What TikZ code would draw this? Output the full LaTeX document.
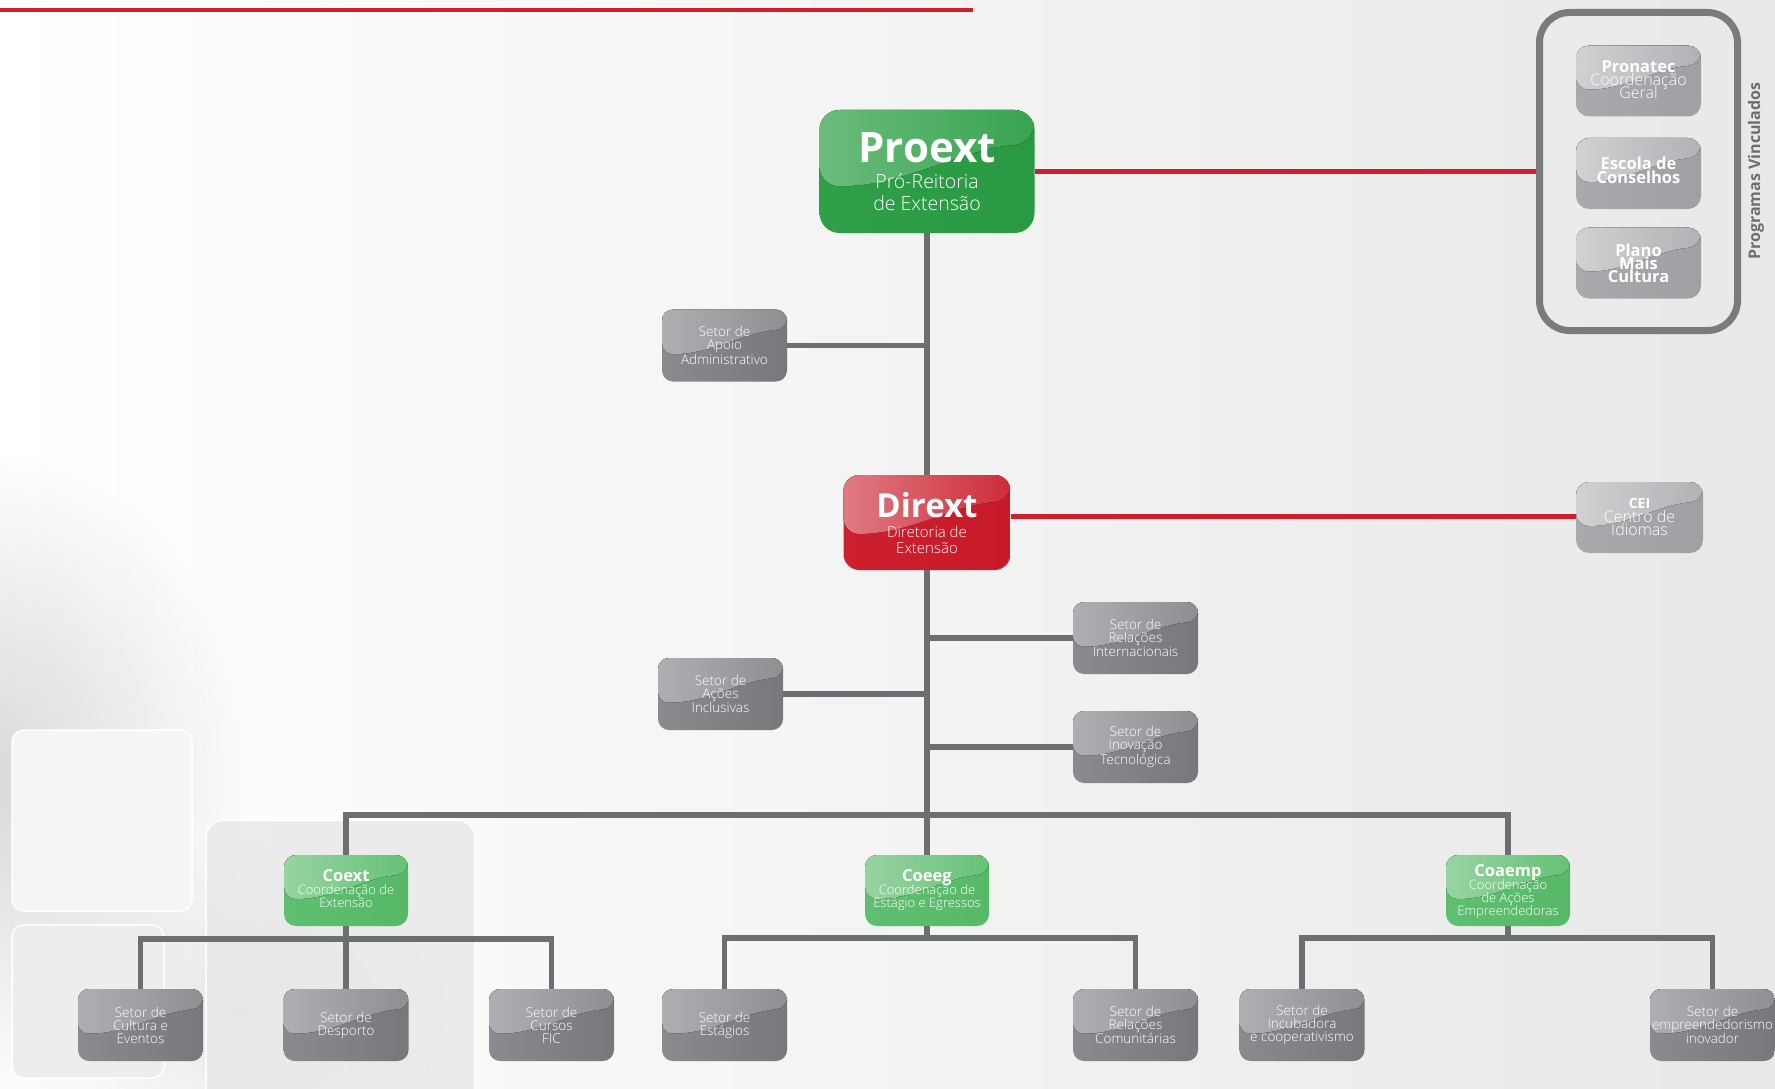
\documentclass[tikz,border=0pt]{standalone}
\usepackage{fontspec}
\setmainfont{Open Sans}
\IfFontExistsTF{Open Sans Light}
  {\newfontfamily\thinfont{Open Sans Light}}
  {\newfontfamily\thinfont{Open Sans}}
\usetikzlibrary{calc,fadings}

\pgfdeclarelayer{back}
\pgfdeclarelayer{wires}
\pgfsetlayers{back,wires,main}

\newcommand\fsz[2]{\fontsize{#1}{#2}\selectfont}

% connector and frame colours
\definecolor{wirec}{HTML}{6D6E71}
\definecolor{redc}{HTML}{CD1F2E}
\definecolor{framec}{HTML}{7A7B7E}
\definecolor{bgR}{HTML}{E8E8E7}
% grey cards: lower body and glossy upper part
\definecolor{gDL}{HTML}{8A8B8E}
\definecolor{gDR}{HTML}{77787B}
\definecolor{gLL}{HTML}{AEAFB2}
\definecolor{gLR}{HTML}{8E8F92}
% lighter grey programme cards
\definecolor{pDL}{HTML}{A9AAAD}
\definecolor{pDR}{HTML}{9FA0A3}
\definecolor{pLL}{HTML}{D0D1D3}
\definecolor{pLR}{HTML}{B1B2B5}
% green, red and light green cards
\definecolor{grDL}{HTML}{2F9F48}
\definecolor{grDR}{HTML}{2A9943}
\definecolor{grLL}{HTML}{6BBC7B}
\definecolor{grLR}{HTML}{38A350}
\definecolor{rDL}{HTML}{CD202E}
\definecolor{rDR}{HTML}{C71B29}
\definecolor{rLL}{HTML}{DF7B84}
\definecolor{rLR}{HTML}{CE2C39}
\definecolor{lgDL}{HTML}{5FBF70}
\definecolor{lgDR}{HTML}{57B968}
\definecolor{lgLL}{HTML}{98D3A2}
\definecolor{lgLR}{HTML}{65C276}

\tikzfading[name=softglow, inner color=transparent!45, outer color=transparent!100]

\tikzset{
  gloss/.style 2 args={path picture={
    \fill[x=1pt, y=1pt, left color=#1, right color=#2]
      let \p1=(path picture bounding box.north west),
          \p2=(path picture bounding box.south east) in
      (\x1,\y1) -- (\x2,\y1) -- (\x2,{\y1+0.27*(\y2-\y1)})
      .. controls ({\x1+0.65*(\x2-\x1)},{\y1+0.32*(\y2-\y1)})
              and ({\x1+0.40*(\x2-\x1)},{\y1+0.62*(\y2-\y1)})
      .. (\x1,{\y1+0.62*(\y2-\y1)}) -- cycle;}},
  card/.style={rounded corners=11pt, inner sep=0pt, align=center, text=white},
  graycard/.style={card, minimum width=125pt, minimum height=72pt,
    left color=gDL, right color=gDR, gloss={gLL}{gLR}, font=\thinfont\fsz{13.5}{13}},
  progcard/.style={card, minimum width=125pt, minimum height=71pt, rounded corners=13pt,
    left color=pDL, right color=pDR, gloss={pLL}{pLR}},
  coordcard/.style={card, minimum width=124pt, minimum height=71pt, rounded corners=12pt,
    left color=lgDL, right color=lgDR, gloss={lgLL}{lgLR}},
  lbl/.style={text=white, inner sep=0pt, anchor=base},
  wire/.style={draw=wirec, line width=5.5pt},
  redline/.style={draw=redc, line width=5.5pt},
  deco/.style={rounded corners=12pt, line width=1.5pt}
}

\begin{document}
\begin{tikzpicture}[x=1pt,y=-1pt]
\useasboundingbox (0,0) rectangle (1775,1089);

% ---------- backdrop ----------
\begin{pgfonlayer}{back}
  \fill[left color=white, right color=bgR] (0,0) rectangle (1775,1089);
  \fill[black!28, path fading=softglow] (-20,780) ellipse [x radius=270pt, y radius=330pt];
  \fill[black!16, path fading=softglow] (240,1010) ellipse [x radius=230pt, y radius=170pt];
  \fill[white!96!black, draw=white, deco] (12,730) rectangle (192,911);
  \fill[white!93!black, draw=white, deco] (12,925) rectangle (164,1078);
  \fill[white!91!black, fill opacity=0.8, draw=white, deco, rounded corners=18pt] (206,820) rectangle (475,1110);
  \draw[redline, line width=4.5pt] (0,10) -- (973,10);
\end{pgfonlayer}

% ---------- top level ----------
\node[card, minimum width=215pt, minimum height=123pt, rounded corners=20pt,
  left color=grDL, right color=grDR, gloss={grLL}{grLR}] (proext) at (927,171.5) {};
\node[lbl, font=\bfseries\fsz{42}{42}] (proextT) at (927,163) {Proext};
\node[lbl, font=\thinfont\fsz{19.5}{20}] (proextS1) at (927,188) {Pró-Reitoria};
\node[lbl, font=\thinfont\fsz{19.5}{20}] (proextS2) at (927,210) {de Extensão};

% ---------- linked programmes ----------
\node[draw=framec, line width=7pt, rounded corners=30pt, minimum width=198pt,
  minimum height=318pt, inner sep=0pt] (progs) at (1638.5,171.5) {};
\node[rotate=90, inner sep=0pt, text=wirec, font=\bfseries\fsz{16}{16}] (progsT) at (1756,171) {Programas Vinculados};

\node[progcard] (pronatec) at (1638.5,81) {};
\node[lbl, font=\bfseries\fsz{16.5}{16}] (pronatecT) at (1638.5,73) {Pronatec};
\node[lbl, font=\thinfont\fsz{16}{16}] (pronatecS1) at (1638.5,86) {Coordenação};
\node[lbl, font=\thinfont\fsz{16}{16}] (pronatecS2) at (1638.5,99) {Geral};

\node[progcard] (escola) at (1638.5,173.5) {};
\node[lbl, font=\bfseries\fsz{16.5}{16}] (escolaT1) at (1638.5,170) {Escola de};
\node[lbl, font=\bfseries\fsz{16.5}{16}] (escolaT2) at (1638.5,183) {Conselhos};

\node[progcard] (plano) at (1638.5,263) {};
\node[lbl, font=\bfseries\fsz{16.5}{16}] (planoT1) at (1638.5,256) {Plano};
\node[lbl, font=\bfseries\fsz{16.5}{16}] (planoT2) at (1638.5,269) {Mais};
\node[lbl, font=\bfseries\fsz{16.5}{16}] (planoT3) at (1638.5,282) {Cultura};

% ---------- directorate ----------
\node[card, minimum width=167pt, minimum height=95pt, rounded corners=16pt,
  left color=rDL, right color=rDR, gloss={rLL}{rLR}] (dirext) at (927,522.5) {};
\node[lbl, font=\bfseries\fsz{33}{33}] (dirextT) at (927,517) {Dirext};
\node[lbl, font=\thinfont\fsz{15}{15}] (dirextS1) at (927,537) {Diretoria de};
\node[lbl, font=\thinfont\fsz{15}{15}] (dirextS2) at (927,553) {Extensão};

\node[progcard, minimum width=127pt] (cei) at (1639.5,517.5) {};
\node[lbl, font=\bfseries\fsz{14}{14}] (ceiT) at (1639.5,508) {CEI};
\node[lbl, font=\thinfont\fsz{16}{16}] (ceiS1) at (1639.5,522) {Centro de};
\node[lbl, font=\thinfont\fsz{16}{16}] (ceiS2) at (1639.5,535) {Idiomas};

% ---------- sectors beside the trunk ----------
\node[graycard] (apoio) at (724.5,345.5) {Setor de\\Apoio\\Administrativo};
\node[graycard] (acoes) at (720.5,694) {Setor de\\Ações\\Inclusivas};
\node[graycard] (relint) at (1135.5,638) {Setor de\\Relações\\Internacionais};
\node[graycard] (inov) at (1135.5,747) {Setor de\\Inovação\\Tecnológica};

% ---------- coordinations ----------
\node[coordcard] (coext) at (346,890.5) {};
\node[lbl, font=\bfseries\fsz{16.5}{16}] (coextT) at (346,881) {Coext};
\node[lbl, font=\thinfont\fsz{13}{13}] (coextS1) at (346,894) {Coordenação de};
\node[lbl, font=\thinfont\fsz{13}{13}] (coextS2) at (346,907) {Extensão};

\node[coordcard] (coeeg) at (927,890.5) {};
\node[lbl, font=\bfseries\fsz{16.5}{16}] (coeegT) at (927,881) {Coeeg};
\node[lbl, font=\thinfont\fsz{13}{13}] (coeegS1) at (927,894) {Coordenação de};
\node[lbl, font=\thinfont\fsz{13}{13}] (coeegS2) at (927,907) {Estágio e Egressos};

\node[coordcard] (coaemp) at (1508,890.5) {};
\node[lbl, font=\bfseries\fsz{16.5}{16}] (coaempT) at (1508,876) {Coaemp};
\node[lbl, font=\thinfont\fsz{13}{13}] (coaempS1) at (1508,889) {Coordenação};
\node[lbl, font=\thinfont\fsz{13}{13}] (coaempS2) at (1508,902) {de Ações};
\node[lbl, font=\thinfont\fsz{13}{13}] (coaempS3) at (1508,915) {Empreendedoras};

% ---------- bottom sectors ----------
\node[graycard] (cultura) at (140.5,1025) {Setor de\\Cultura e\\Eventos};
\node[graycard] (desporto) at (346,1025) {Setor de\\Desporto};
\node[graycard] (cursos) at (551.5,1025) {Setor de\\Cursos\\FIC};
\node[graycard] (estagios) at (724.5,1025) {Setor de\\Estágios};
\node[graycard] (relcom) at (1135.5,1025) {Setor de\\Relações\\Comunitárias};
\node[graycard] (incub) at (1302,1025) {Setor de\\Incubadora\\e cooperativismo};
\node[graycard] (empre) at (1712.5,1025) {Setor de\\empreendedorismo\\inovador};

% ---------- connectors ----------
\coordinate (busC) at (927,815);
\coordinate (sbA) at (346,939);
\coordinate (sbB) at (927,938);
\coordinate (sbC) at (1508,938);

\begin{pgfonlayer}{wires}
  \draw[redline] (proext.east) -- (proext.east -| progs.west);
  \draw[redline] ([yshift=6pt]dirext.east) -- ([yshift=6pt]dirext.east -| cei.west);

  \draw[wire] (proext.south) -- (dirext.north);
  \draw[wire] (dirext.south) -- (busC);
  \draw[wire] (apoio.east) -- (apoio.east -| proext.south);
  \draw[wire] (acoes.east) -- (acoes.east -| proext.south);
  \draw[wire] (relint.west) -- (relint.west -| proext.south);
  \draw[wire] (inov.west) -- (inov.west -| proext.south);

  \draw[wire] (coext.north) -- (coext.north |- busC) -- (coaemp.north |- busC) -- (coaemp.north);
  \draw[wire] (busC) -- (coeeg.north);

  \draw[wire] (coext.south) -- (sbA) -- (desporto.north);
  \draw[wire] (cultura.north) -- (cultura.north |- sbA) -- (cursos.north |- sbA) -- (cursos.north);

  \draw[wire] (coeeg.south) -- (sbB);
  \draw[wire] (estagios.north) -- (estagios.north |- sbB) -- (relcom.north |- sbB) -- (relcom.north);

  \draw[wire] (coaemp.south) -- (sbC);
  \draw[wire] (incub.north) -- (incub.north |- sbC) -- (empre.north |- sbC) -- (empre.north);
\end{pgfonlayer}
\end{tikzpicture}
\end{document}
